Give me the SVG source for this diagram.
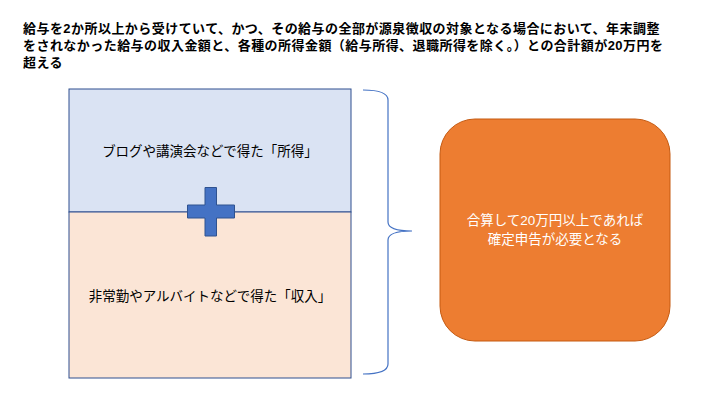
<svg xmlns="http://www.w3.org/2000/svg" width="720" height="405" viewBox="0 0 720 405">
<style>
text{font-family:"Liberation Sans","Noto Sans CJK JP","Noto Sans CJK SC",sans-serif}
.t{font-size:13px;font-weight:bold;fill:#000;letter-spacing:0.45px}
.l{font-size:13.5px;fill:#000}
.w{font-size:13.5px;fill:#fff}
</style>
<rect width="720" height="405" fill="#fff"/>
<g id="title">
<text class="t" x="23" y="33">給与を2か所以上から受けていて、かつ、その給与の全部が源泉徴収の対象となる場合において、年末調整</text>
<text class="t" x="23" y="50">をされなかった給与の収入金額と、各種の所得金額（給与所得、退職所得を除く。）との合計額が20万円を</text>
<text class="t" x="23" y="67">超える</text>
</g>
<g id="shotoku">
<rect x="69" y="89" width="282" height="123" fill="#dae3f3" stroke="#2f4f8f" stroke-width="1"/>
<text class="l" x="210" y="156" text-anchor="middle">ブログや講演会などで得た「所得」</text>
</g>
<g id="shunyu">
<rect x="69" y="212" width="282" height="166" fill="#fbe5d6" stroke="#2f4f8f" stroke-width="1"/>
<text class="l" x="210" y="301" text-anchor="middle">非常勤やアルバイトなどで得た「収入」</text>
</g>
<g id="plus">
<path d="M205,187.5 H216.5 V205 H234.5 V218 H216.5 V236 H205 V218 H187.5 V205 H205 Z" fill="#4472c4" stroke="#2f528f" stroke-width="1"/>
</g>
<g id="connectors">
<path d="M363,90 Q388,90 388,100 V222 Q388,231 412,231 Q388,231 388,240 V364 Q388,374 363,374" fill="none" stroke="#4472c4" stroke-width="1.2"/>
</g>
<g id="result">
<rect x="440" y="119" width="230" height="222" rx="35" fill="#ed7d31" stroke="#c55a11" stroke-width="1"/>
<text class="w" x="555" y="225" text-anchor="middle">合算して20万円以上であれば</text>
<text class="w" x="555" y="244" text-anchor="middle">確定申告が必要となる</text>
</g>
</svg>
